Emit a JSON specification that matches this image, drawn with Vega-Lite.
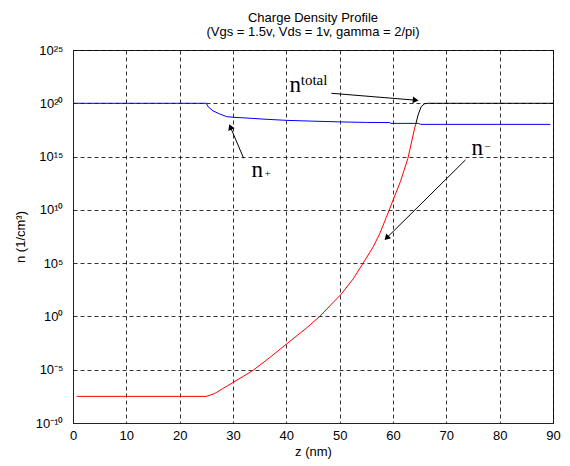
{
  "$schema": "https://vega.github.io/schema/vega-lite/v6.json",
  "autosize": {"type": "none"},
  "width": 480,
  "height": 373,
  "padding": {"left": 73, "top": 50, "right": 17, "bottom": 43},
  "background": "white",
  "title": {
    "text": "Charge Density Profile",
    "subtitle": "(Vgs = 1.5v, Vds = 1v, gamma = 2/pi)",
    "font": "Liberation Sans",
    "subtitleFont": "Liberation Sans",
    "fontSize": 13,
    "subtitleFontSize": 13,
    "fontWeight": "normal",
    "color": "#000000",
    "subtitleColor": "#000000",
    "anchor": "middle",
    "offset": 5,
    "subtitlePadding": 1
  },
  "config": {
    "view": {"stroke": "#222222", "strokeWidth": 1},
    "axis": {
      "labelFont": "Liberation Sans",
      "titleFont": "Liberation Sans",
      "labelFontSize": 13,
      "titleFontSize": 13,
      "titleFontWeight": "normal",
      "labelColor": "#000000",
      "titleColor": "#000000",
      "domainColor": "#222222",
      "ticks": false,
      "grid": true,
      "gridColor": "#000000",
      "gridDash": [4, 3],
      "gridOpacity": 1,
      "gridWidth": 0.8
    }
  },
  "datasets": {
    "curves": [
      {"s": "n+", "z": 0, "n": 1e20},
      {"s": "n+", "z": 25, "n": 1e20},
      {"s": "n+", "z": 25.3, "n": 4.9e19},
      {"s": "n+", "z": 26.25, "n": 1.95e19},
      {"s": "n+", "z": 27.5, "n": 1e19},
      {"s": "n+", "z": 28.8, "n": 5.6e18},
      {"s": "n+", "z": 30, "n": 4.9e18},
      {"s": "n+", "z": 33, "n": 4.0e18},
      {"s": "n+", "z": 36, "n": 3.2e18},
      {"s": "n+", "z": 40, "n": 2.5e18},
      {"s": "n+", "z": 45, "n": 2.1e18},
      {"s": "n+", "z": 50, "n": 1.8e18},
      {"s": "n+", "z": 55, "n": 1.6e18},
      {"s": "n+", "z": 59.4, "n": 1.55e18},
      {"s": "n+", "z": 59.6, "n": 1.3e18},
      {"s": "n+", "z": 64.8, "n": 1.3e18},
      {"s": "n+", "z": 65.2, "n": 1.05e18},
      {"s": "n+", "z": 89.5, "n": 1.05e18},
      {"s": "n-", "z": 0.7, "n": 3.16e-8},
      {"s": "n-", "z": 25, "n": 3.16e-8},
      {"s": "n-", "z": 26.5, "n": 5.6e-8},
      {"s": "n-", "z": 28, "n": 1.6e-7},
      {"s": "n-", "z": 30, "n": 6.3e-7},
      {"s": "n-", "z": 32, "n": 2.5e-6},
      {"s": "n-", "z": 33.75, "n": 8.7e-6},
      {"s": "n-", "z": 36.9, "n": 1.4e-4},
      {"s": "n-", "z": 40, "n": 2.5e-3},
      {"s": "n-", "z": 43.75, "n": 0.079},
      {"s": "n-", "z": 46.25, "n": 1},
      {"s": "n-", "z": 48.75, "n": 20},
      {"s": "n-", "z": 50.3, "n": 126},
      {"s": "n-", "z": 52.5, "n": 3160},
      {"s": "n-", "z": 54.4, "n": 1e5},
      {"s": "n-", "z": 56.25, "n": 3.16e6},
      {"s": "n-", "z": 57.5, "n": 5.6e7},
      {"s": "n-", "z": 58.75, "n": 2.0e9},
      {"s": "n-", "z": 60, "n": 7.9e10},
      {"s": "n-", "z": 61.4, "n": 4.6e12},
      {"s": "n-", "z": 62.8, "n": 6.9e14},
      {"s": "n-", "z": 64.06, "n": 4.6e17},
      {"s": "n-", "z": 64.3, "n": 1.26e18},
      {"s": "total", "z": 64.3, "n": 1.26e18},
      {"s": "total", "z": 64.7, "n": 7.9e18},
      {"s": "total", "z": 65.3, "n": 5e19},
      {"s": "total", "z": 65.9, "n": 8.9e19},
      {"s": "total", "z": 66.5, "n": 1e20},
      {"s": "total", "z": 90, "n": 1e20}
    ],
    "labels": [
      {"t": "n", "z": 40.6, "n": 1.26e21},
      {"t": "total", "z": 42.7, "n": 5.4e21},
      {"t": "n", "z": 33.45, "n": 1.3e13},
      {"t": "+", "z": 36.5, "n": 2.5e13},
      {"t": "n", "z": 74.7, "n": 1.45e15},
      {"t": "−", "z": 77.7, "n": 8.7e15}
    ],
    "arrows": [
      {"id": 1, "z": 48.45, "n": 8.7e20, "z2": 64.25, "n2": 1.95e20},
      {"id": 2, "z": 32.0, "n": 6.9e14, "z2": 29.5, "n2": 6.0e17},
      {"id": 3, "z": 73.6, "n": 4.9e14, "z2": 58.8, "n2": 2.3e7}
    ]
  },
  "layer": [
    {
      "data": {"name": "curves"},
      "transform": [{"filter": "datum.s == 'n-'"}],
      "mark": {"type": "line", "color": "#ff0000", "strokeWidth": 1},
      "encoding": {
        "x": {
          "field": "z", "type": "quantitative",
          "scale": {"domain": [0, 90], "nice": false},
          "axis": {"values": [0, 10, 20, 30, 40, 50, 60, 70, 80, 90], "title": "z (nm)", "labelPadding": 6, "titlePadding": 3, "labelFlush": false}
        },
        "y": {
          "field": "n", "type": "quantitative",
          "scale": {"type": "log", "domain": [1e-10, 1e25], "nice": false},
          "axis": {
            "values": [1e-10, 1e-5, 1, 1e5, 1e10, 1e15, 1e20, 1e25],
            "title": "n (1/cm³)",
            "labelPadding": 10,
            "titlePadding": 8,
            "labelFlush": false,
            "labelExpr": "datum.value >= 1e24 ? '10²⁵' : datum.value >= 1e19 ? '10²⁰' : datum.value >= 1e14 ? '10¹⁵' : datum.value >= 1e9 ? '10¹⁰' : datum.value >= 1e4 ? '10⁵' : datum.value >= 0.1 ? '10⁰' : datum.value >= 1e-6 ? '10⁻⁵' : '10⁻¹⁰'"
          }
        }
      }
    },
    {
      "data": {"name": "curves"},
      "transform": [{"filter": "datum.s == 'n+'"}],
      "mark": {"type": "line", "color": "#0000ff", "strokeWidth": 1},
      "encoding": {
        "x": {"field": "z", "type": "quantitative"},
        "y": {"field": "n", "type": "quantitative"}
      }
    },
    {
      "data": {"name": "curves"},
      "transform": [{"filter": "datum.s == 'total'"}],
      "mark": {"type": "line", "color": "#000000", "strokeWidth": 1},
      "encoding": {
        "x": {"field": "z", "type": "quantitative"},
        "y": {"field": "n", "type": "quantitative"}
      }
    },
    {
      "data": {"name": "arrows"},
      "mark": {"type": "rule", "color": "#000000", "strokeWidth": 1},
      "encoding": {
        "x": {"field": "z", "type": "quantitative"},
        "y": {"field": "n", "type": "quantitative"},
        "x2": {"field": "z2"},
        "y2": {"field": "n2"}
      }
    },
    {
      "data": {"name": "arrows"},
      "transform": [{"filter": "datum.id == 1"}],
      "mark": {"type": "point", "shape": "triangle-up", "filled": true, "color": "#000000", "opacity": 1, "size": 45, "angle": 95},
      "encoding": {
        "x": {"field": "z2", "type": "quantitative"},
        "y": {"field": "n2", "type": "quantitative"}
      }
    },
    {
      "data": {"name": "arrows"},
      "transform": [{"filter": "datum.id == 2"}],
      "mark": {"type": "point", "shape": "triangle-up", "filled": true, "color": "#000000", "opacity": 1, "size": 45, "angle": 337},
      "encoding": {
        "x": {"field": "z2", "type": "quantitative"},
        "y": {"field": "n2", "type": "quantitative"}
      }
    },
    {
      "data": {"name": "arrows"},
      "transform": [{"filter": "datum.id == 3"}],
      "mark": {"type": "point", "shape": "triangle-up", "filled": true, "color": "#000000", "opacity": 1, "size": 45, "angle": 225},
      "encoding": {
        "x": {"field": "z2", "type": "quantitative"},
        "y": {"field": "n2", "type": "quantitative"}
      }
    },
    {
      "data": {"name": "labels"},
      "transform": [{"filter": "datum.t == 'n'"}],
      "mark": {"type": "text", "font": "Liberation Serif", "fontSize": 23, "align": "left", "baseline": "alphabetic", "color": "#000000"},
      "encoding": {
        "x": {"field": "z", "type": "quantitative"},
        "y": {"field": "n", "type": "quantitative"},
        "text": {"field": "t"}
      }
    },
    {
      "data": {"name": "labels"},
      "transform": [{"filter": "datum.t == 'total'"}],
      "mark": {"type": "text", "font": "Liberation Serif", "fontSize": 15, "align": "left", "baseline": "alphabetic", "color": "#000000"},
      "encoding": {
        "x": {"field": "z", "type": "quantitative"},
        "y": {"field": "n", "type": "quantitative"},
        "text": {"field": "t"}
      }
    },
    {
      "data": {"name": "labels"},
      "transform": [{"filter": "datum.t == '+' || datum.t == '−'"}],
      "mark": {"type": "text", "font": "Liberation Serif", "fontSize": 11, "align": "center", "baseline": "middle", "color": "#000000"},
      "encoding": {
        "x": {"field": "z", "type": "quantitative"},
        "y": {"field": "n", "type": "quantitative"},
        "text": {"field": "t"}
      }
    }
  ]
}
